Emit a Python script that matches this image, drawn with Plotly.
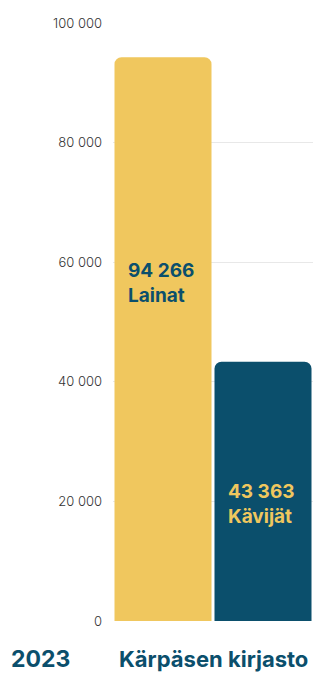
import plotly.graph_objects as go

categories = ["Lainat", "Kävijät"]
values = [94266, 43363]
value_labels = ["94 266", "43 363"]
bar_colors = ["#F0C75E", "#0B4F6C"]
text_colors = ["#0B4F6C", "#F0C75E"]
label_pos = [0.60, 0.45]
year = "2023"
library = "Kärpäsen kirjasto"
tick_vals = [0, 20000, 40000, 60000, 80000, 100000]

fig = go.Figure()
fig.add_trace(go.Bar(
    x=categories, y=values,
    marker=dict(color=bar_colors, line=dict(width=0), cornerradius=7),
    hoverinfo="skip",
))

for cat, v, lab, tc, fr in zip(categories, values, value_labels, text_colors, label_pos):
    fig.add_annotation(
        x=cat, y=v * fr, xref="x", yref="y",
        text=f"<b>{lab}<br>{cat}</b>", showarrow=False,
        xanchor="left", yanchor="middle", align="left",
        xshift=-37,
        font=dict(family="Inter, sans-serif", size=19, color=tc),
    )

fig.add_annotation(x=0, y=0, xref="paper", yref="paper", text=f"<b>{year}</b>",
                   showarrow=False, xanchor="left", yanchor="middle",
                   xshift=-104, yshift=-38,
                   font=dict(family="Inter, sans-serif", size=23, color="#0B4F6C"))
fig.add_annotation(x=0.5, y=0, xref="paper", yref="paper", text=f"<b>{library}</b>",
                   showarrow=False, xanchor="center", yanchor="middle",
                   yshift=-38,
                   font=dict(family="Inter, sans-serif", size=22, color="#0B4F6C"))

fig.update_layout(
    width=313, height=673,
    margin=dict(l=113, r=0, t=23, b=52),
    paper_bgcolor="white", plot_bgcolor="white",
    showlegend=False, bargap=0.03,
    separators=", ",
    font=dict(family="Inter, sans-serif"),
)
fig.update_xaxes(showticklabels=False, showgrid=False, zeroline=False, showline=False)
fig.update_yaxes(range=[0, 100000], tickvals=tick_vals, tickformat=",d",
                 showgrid=True, gridcolor="#E8E8E8", gridwidth=1,
                 zeroline=False, showline=False, ticks="",
                 ticklabelstandoff=10,
                 tickfont=dict(family="Inter, sans-serif", size=13, color="#333333", weight=300))

fig.write_html("out.html", config={"displayModeBar": False},
               post_script="document.body.style.margin='0';document.body.style.overflow='hidden';")
